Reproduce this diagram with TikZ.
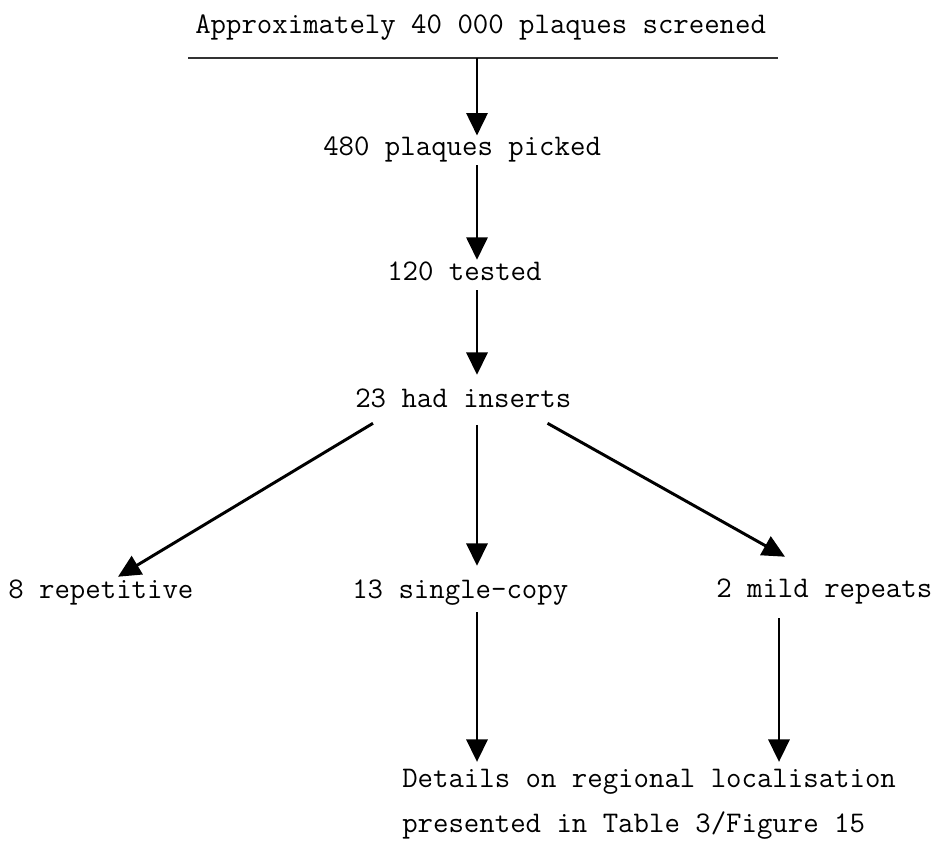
\documentclass[tikz,border=0pt]{standalone}
\usepackage{fontspec}
\usepackage{tikz}
\usetikzlibrary{arrows.meta}

\begin{document}
\begin{tikzpicture}[x=0.025cm,y=-0.025cm,
    txt/.style={anchor=base west,inner sep=0pt,text height=15*0.711pt,text depth=5*0.711pt,
                font=\ttfamily\fontsize{21.3}{25}\selectfont},
    flow/.style={line width=2.1pt,-{Triangle[length=16pt,width=15pt]}}]
    \useasboundingbox (0,0) rectangle (941,842);

	\node[txt] (screened) at (195,33) {Approximately 40 000 plaques screened};
	\coordinate (ruleL) at (188,58);
	\coordinate (ruleR) at (778,58);
	\coordinate (rule) at (477,58);
	\draw[line width=1pt,black!80] (ruleL) -- (ruleR);

	\node[txt] (picked) at (323,155) {480 plaques picked};
	\node[txt] (tested) at (387,280) {120 tested};
	\node[txt] (inserts) at (355,407) {23 had inserts};

	\node[txt] (repetitive) at (8,598) {8 repetitive};
	\node[txt] (singlecopy) at (352,598) {13 single-copy};
	\node[txt] (mild) at (716,597) {2 mild repeats};

	\node[txt] (details) at (402,787) {Details on regional localisation};
	\node[txt] (presented) at (402,832) {presented in Table 3/Figure 15};

  \draw[flow,shorten >=3pt] (rule) -- (rule |- picked.north);
  \draw[flow,shorten <=3.5pt,shorten >=3.5pt] (rule |- picked.south) -- (rule |- tested.north);
  \draw[flow,shorten <=3.5pt,shorten >=12pt] (rule |- tested.south) -- (rule |- inserts.north);

  \draw[flow] ([shift={(18,11)}]inserts.south west) -- ([shift={(110,-6)}]repetitive.north west);
  \draw[flow,shorten <=9pt,shorten >=12pt] (rule |- inserts.south) -- (rule |- singlecopy.north);
  \draw[flow] ([shift={(-24,11)}]inserts.south east) -- ([shift={(69,-25)}]mild.north west);

  \coordinate (drop) at ([shift={(63,16)}]mild.south west);
  \draw[flow,shorten <=6.5pt,shorten >=7pt] (rule |- singlecopy.south) -- (rule |- details.north);
  \draw[flow,shorten >=7pt] (drop) -- (drop |- details.north);
\end{tikzpicture}
\end{document}
